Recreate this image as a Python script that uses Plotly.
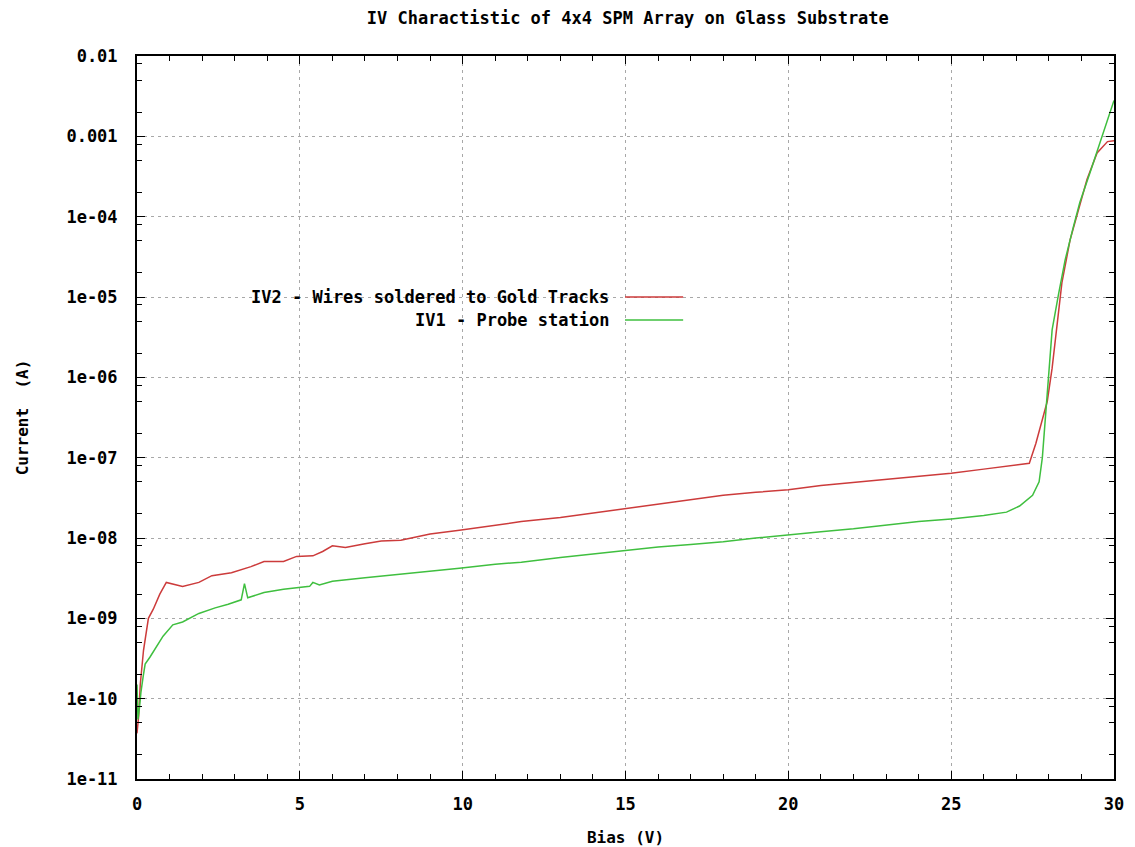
import plotly.graph_objects as go

# ---- data ----
iv2_bias = [0.0, 0.05, 0.1, 0.2, 0.35, 0.5, 0.7, 0.9, 1.4, 1.9, 2.3, 2.9, 3.5, 3.9, 4.5,
            4.9, 5.4, 5.7, 6.0, 6.4, 7.0, 7.5, 8.1, 9.0, 9.9, 11.0, 11.8, 13.0, 13.8, 14.9,
            15.5, 16.4, 17.5, 18.0, 19.0, 20.0, 21.0, 22.0, 23.0, 24.0, 25.0, 26.0, 27.0,
            27.4, 27.6, 27.8, 27.95, 28.1, 28.28, 28.4, 28.65, 28.86, 29.17, 29.48, 29.8, 30.0]
iv2_current = [3.7e-11, 6e-11, 1.5e-10, 4e-10, 1.0e-9, 1.3e-9, 2.0e-9, 2.8e-9, 2.5e-9, 2.8e-9,
               3.4e-9, 3.7e-9, 4.4e-9, 5.1e-9, 5.1e-9, 5.9e-9, 6.0e-9, 6.8e-9, 8.0e-9, 7.6e-9,
               8.5e-9, 9.2e-9, 9.4e-9, 1.12e-8, 1.25e-8, 1.45e-8, 1.6e-8, 1.8e-8, 2.0e-8, 2.3e-8,
               2.5e-8, 2.8e-8, 3.2e-8, 3.4e-8, 3.7e-8, 4.0e-8, 4.5e-8, 4.9e-8, 5.4e-8, 5.9e-8,
               6.4e-8, 7.2e-8, 8.0e-8, 8.5e-8, 1.5e-7, 3e-7, 5e-7, 1.3e-6, 6.3e-6, 1.5e-5,
               5.1e-5, 1.05e-4, 2.9e-4, 6.2e-4, 8.6e-4, 8.8e-4]

iv1_bias = [0.0, 0.03, 0.08, 0.12, 0.19, 0.25, 0.4, 0.6, 0.8, 1.1, 1.4, 1.9, 2.4, 2.8, 3.2,
            3.3, 3.4, 3.9, 4.5, 5.3, 5.4, 5.6, 6.0, 7.0, 8.0, 9.0, 9.9, 11.0, 11.8, 13.0,
            14.0, 14.9, 16.0, 17.0, 18.0, 19.0, 20.0, 21.0, 22.0, 23.0, 24.0, 25.0, 26.0,
            26.7, 27.1, 27.5, 27.7, 27.8, 27.9, 28.0, 28.1, 28.3, 28.5, 28.75, 28.95, 29.26,
            29.57, 29.78, 30.0]
iv1_current = [1.5e-10, 5.5e-11, 8e-11, 1.2e-10, 1.9e-10, 2.7e-10, 3.3e-10, 4.4e-10, 6.0e-10,
               8.3e-10, 9.0e-10, 1.15e-9, 1.35e-9, 1.5e-9, 1.7e-9, 2.7e-9, 1.8e-9, 2.1e-9,
               2.3e-9, 2.5e-9, 2.8e-9, 2.6e-9, 2.9e-9, 3.2e-9, 3.5e-9, 3.8e-9, 4.2e-9, 4.7e-9,
               5.0e-9, 5.7e-9, 6.3e-9, 6.9e-9, 7.7e-9, 8.3e-9, 9.0e-9, 1.0e-8, 1.1e-8, 1.2e-8,
               1.3e-8, 1.45e-8, 1.6e-8, 1.73e-8, 1.9e-8, 2.1e-8, 2.5e-8, 3.4e-8, 5e-8, 1e-7,
               3.2e-7, 1.1e-6, 3.9e-6, 1.1e-5, 2.9e-5, 7.4e-5, 1.5e-4, 3.5e-4, 8.5e-4, 1.5e-3,
               2.8e-3]

x_ticks = [0, 5, 10, 15, 20, 25, 30]
y_tickvals = [1e-11, 1e-10, 1e-9, 1e-8, 1e-7, 1e-6, 1e-5, 1e-4, 1e-3, 1e-2]
y_ticktext = ["1e-11", "1e-10", "1e-09", "1e-08", "1e-07", "1e-06", "1e-05", "1e-04",
              "0.001", "0.01"]
y_minor = [m * 10.0 ** e for e in range(-11, -2) for m in (2, 5, 8)]

title_text = "IV Charactistic of 4x4 SPM Array on Glass Substrate"
x_title = "Bias (V)"
y_title = "Current  (A)"
name_iv2 = "IV2 - Wires soldered to Gold Tracks"
name_iv1 = "IV1 - Probe station"

RED = "#cc3b3b"
GREEN = "#3fbf3f"
FONT = "DejaVu Sans Mono"

fig = go.Figure()
fig.add_trace(go.Scatter(x=iv2_bias, y=iv2_current, mode="lines", name=name_iv2,
                         line=dict(color=RED, width=1.5)))
fig.add_trace(go.Scatter(x=iv1_bias, y=iv1_current, mode="lines", name=name_iv1,
                         line=dict(color=GREEN, width=1.5)))

axis_common = dict(
    showline=True, linecolor="black", linewidth=2, mirror="all",
    ticks="inside", ticklen=8, tickcolor="black", tickwidth=1,
    showgrid=True, gridcolor="#a8a8a8", griddash="3px,4px", gridwidth=1,
    zeroline=False, automargin=False,
    tickfont=dict(family=FONT, size=17, color="black", weight="bold"),
)

fig.update_xaxes(range=[0, 30], tickvals=x_ticks,
                 minor=dict(dtick=1, ticks="inside", ticklen=5, tickcolor="black", showgrid=False),
                 title=dict(text=x_title, font=dict(family=FONT, size=16, color="black", weight="bold"),
                            standoff=20),
                 ticklabelstandoff=9,
                 **axis_common)
fig.update_yaxes(type="log", range=[-11, -2], tickvals=y_tickvals, ticktext=y_ticktext,
                 minor=dict(tickvals=y_minor, ticks="inside", ticklen=5, tickcolor="black", showgrid=False),
                 title=dict(text=y_title, font=dict(family=FONT, size=16, color="black", weight="bold"),
                            standoff=34),
                 ticklabelstandoff=14,
                 **axis_common)

# legend drawn gnuplot-style: right-aligned text with sample line on its right
leg_rows = [(name_iv2, RED, 0.6667), (name_iv1, GREEN, 0.6349)]
fig.add_shape(type="rect", xref="paper", yref="paper", x0=0.028, x1=0.57, y0=0.615, y1=0.688,
              fillcolor="white", line=dict(width=0), layer="between")
for text, col, yy in leg_rows:
    fig.add_annotation(xref="paper", yref="paper", x=0.485, y=yy, text=text, showarrow=False,
                       xanchor="right", yanchor="middle",
                       font=dict(family=FONT, size=17, color="black", weight="bold"))
    fig.add_shape(type="line", xref="paper", yref="paper", x0=0.4995, x1=0.559, y0=yy, y1=yy,
                  line=dict(color=col, width=1.5))

fig.update_layout(
    width=1127, height=839,
    margin=dict(l=129, r=21, t=48, b=68),
    paper_bgcolor="white", plot_bgcolor="white",
    showlegend=False,
    title=dict(text=title_text, x=0.55, xanchor="center", y=0.988, yanchor="middle",
               font=dict(family=FONT, size=17, color="black", weight="bold")),
)

fig.write_html("out.html")
